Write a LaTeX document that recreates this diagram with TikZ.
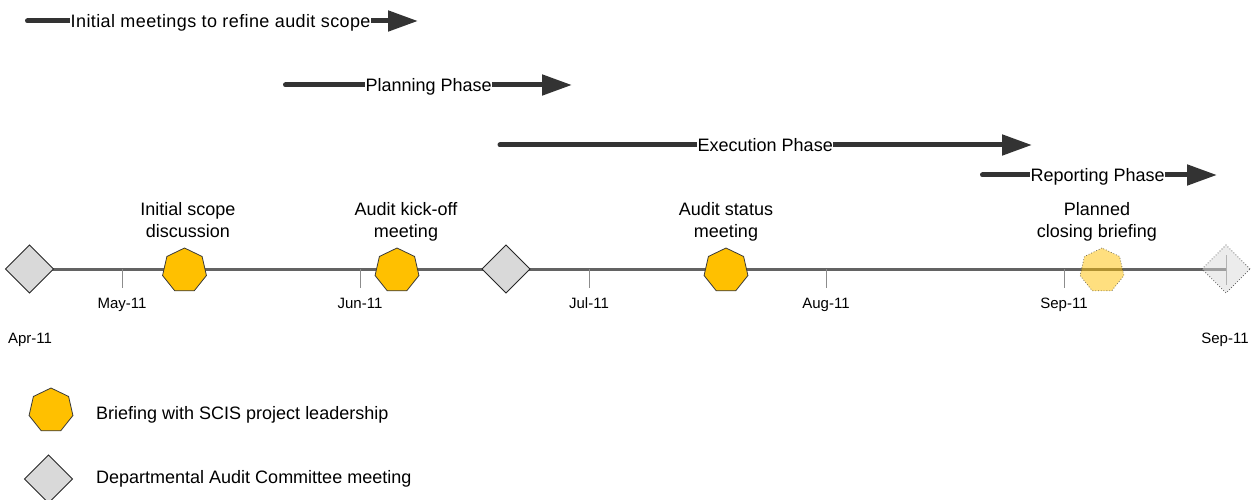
\documentclass[tikz,border=0pt]{standalone}
\usepackage{fontspec}
\setmainfont{Liberation Sans}
\newfontfamily\spacedfont[LetterSpace=2.2]{Liberation Sans}
\usetikzlibrary{shapes.geometric,arrows.meta,backgrounds}
\definecolor{gold}{HTML}{FFC000}
\definecolor{dacgray}{HTML}{D9D9D9}
\definecolor{arrowc}{HTML}{333333}
\definecolor{axisc}{HTML}{636363}
\definecolor{tickc}{HTML}{8C8C8C}
\definecolor{edgec}{HTML}{3A3A3A}
\tikzset{
  brief/.style={regular polygon, regular polygon sides=7, minimum size=45pt,
    inner sep=0pt, outer sep=0pt, fill=gold, draw=edgec, line width=0.8pt},
  dac/.style={diamond, minimum width=48pt, minimum height=48pt, inner sep=0pt,
    outer sep=0pt, fill=dacgray, draw=black!85, line width=0.8pt},
  planned/.style={fill opacity=0.5, draw opacity=0.7, dotted},
  phase/.style={draw=arrowc, line width=5pt, line cap=round,
    -{Triangle[length=30pt,width=20pt]}},
  phaselbl/.style={font=\fontsize{18}{20}\selectfont, fill=white,
    inner xsep=0.5pt, inner ysep=1pt, anchor=base west},
  evlbl/.style={font=\fontsize{18}{22}\selectfont, align=center, anchor=base, inner sep=0pt},
  ticklbl/.style={font=\fontsize{15}{17}\selectfont, anchor=base, inner sep=0pt},
  leglbl/.style={font=\fontsize{18}{20}\selectfont, anchor=base west, inner sep=0pt},
  axisline/.style={draw=axisc, line width=3pt},
  tickline/.style={draw=tickc, line width=1pt},
}
\begin{document}
\begin{tikzpicture}[x=1pt,y=-1pt]
\useasboundingbox (0,0) rectangle (1259,500);

% phase arrows
\coordinate (p1s) at (27.5,21);  \coordinate (p1e) at (418,21);
\coordinate (p2s) at (285.5,85); \coordinate (p2e) at (572,85);
\coordinate (p3s) at (500,145);  \coordinate (p3e) at (1032,145);
\coordinate (p4s) at (982.5,175); \coordinate (p4e) at (1217,175);
\draw[phase] (p1s) -- (p1e);
\draw[phase] (p2s) -- (p2e);
\draw[phase] (p3s) -- (p3e);
\draw[phase] (p4s) -- (p4e);
\node[phaselbl, font=\spacedfont\fontsize{18}{20}\selectfont] (l1) at (70,27.5) {Initial meetings to refine audit scope};
\node[phaselbl] (l2) at (365,91.5) {Planning Phase};
\node[phaselbl] (l3) at (697,151.5) {Execution Phase};
\node[phaselbl] (l4) at (1030,181.5) {Reporting Phase};

% milestones
\node[dac] (d1) at (29.5,269) {};
\node[dac] (d2) at (506,269) {};
\node[dac, planned] (d3) at (1226,269) {};
\node[brief] (h1) at (184.5,270.5) {};
\node[brief] (h2) at (397,270.5) {};
\node[brief] (h3) at (726,270.5) {};
\node[brief, planned] (h4) at (1102,270.5) {};

% axis and ticks
\coordinate (tmay) at (122,269);  \coordinate (tmayb) at (122,288);
\coordinate (tjun) at (360,269);  \coordinate (tjunb) at (360,288);
\coordinate (tjul) at (589,269);  \coordinate (tjulb) at (589,288);
\coordinate (taug) at (826,269);  \coordinate (taugb) at (826,288);
\coordinate (tsep) at (1064,269); \coordinate (tsepb) at (1064,288);
\coordinate (tendt) at (1226,255); \coordinate (tendb) at (1226,285);
\begin{pgfonlayer}{background}
\draw[axisline] (d1.center) -- (d3.center);
\draw[tickline] (tmay) -- (tmayb);
\draw[tickline] (tjun) -- (tjunb);
\draw[tickline] (tjul) -- (tjulb);
\draw[tickline] (taug) -- (taugb);
\draw[tickline] (tsep) -- (tsepb);
\draw[tickline] (tendt) -- (tendb);
\end{pgfonlayer}

% event labels
\node[evlbl] (e1) at (188,237.5) {Initial scope\\discussion};
\node[evlbl] (e2) at (406,237.5) {Audit kick-off\\meeting};
\node[evlbl] (e3) at (726,237.5) {Audit status\\meeting};
\node[evlbl] (e4) at (1097,237.5) {Planned\\closing briefing};

% tick labels
\node[ticklbl] (m1) at (30,343) {Apr-11};
\node[ticklbl] (m2) at (122,308) {May-11};
\node[ticklbl] (m3) at (360,308) {Jun-11};
\node[ticklbl] (m4) at (589,308) {Jul-11};
\node[ticklbl] (m5) at (826,308) {Aug-11};
\node[ticklbl] (m6) at (1064,308) {Sep-11};
\node[ticklbl] (m7) at (1225,343) {Sep-11};

% legend
\node[brief] (lh) at (51,410.5) {};
\node[leglbl] (lht) at (96,419) {Briefing with SCIS project leadership};
\node[dac] (ld) at (48.5,479) {};
\node[leglbl] (ldt) at (96,483) {Departmental Audit Committee meeting};
\end{tikzpicture}
\end{document}
